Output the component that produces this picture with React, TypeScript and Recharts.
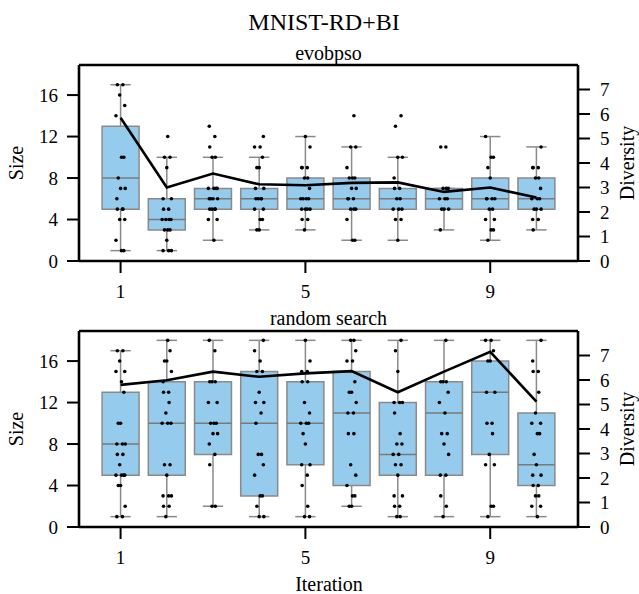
import React from 'react';
import {
  ComposedChart,
  XAxis,
  YAxis,
  Scatter,
  Line,
  ReferenceArea,
  ReferenceLine,
} from 'recharts';

// ---------- data ----------
const iterations = [1, 2, 3, 4, 5, 6, 7, 8, 9, 10];
const xTicks = [1, 5, 9];
const sizeTicks = [0, 4, 8, 12, 16];
const diversityTicks = [0, 1, 2, 3, 4, 5, 6, 7];

// evobpso panel
const evoQ1 = [5, 3, 5, 5, 5, 5, 5, 5, 5, 5];
const evoMedian = [8, 4, 6, 6, 6, 6, 6, 6, 6, 6];
const evoQ3 = [13, 6, 7, 7, 8, 8, 7, 7, 8, 8];
const evoWhiskerLow = [1, 1, 2, 3, 3, 2, 2, 3, 2, 3];
const evoWhiskerHigh = [17, 10, 10, 10, 12, 11, 10, 7, 12, 11];
const evoDiversity = [5.85, 3.0, 3.57, 3.13, 3.09, 3.19, 3.21, 2.82, 3.0, 2.59];
const evoPoints = [
  [17, 17, 16, 15, 14, 10, 10, 8, 7, 7, 6, 5, 5, 5, 4, 4, 2, 1, 1],
  [12, 10, 10, 9, 6, 6, 5, 5, 4, 4, 4, 4, 3, 3, 3, 2, 1, 1, 1],
  [13, 12, 11, 10, 10, 7, 7, 7, 7, 6, 6, 6, 6, 5, 5, 5, 5, 4, 4, 2],
  [12, 11, 11, 10, 9, 9, 7, 7, 6, 6, 6, 6, 5, 5, 4, 4, 3, 3],
  [12, 11, 9, 9, 9, 8, 8, 7, 6, 6, 6, 6, 5, 5, 5, 5, 4, 4, 3],
  [14, 11, 11, 9, 8, 8, 8, 7, 7, 6, 6, 6, 5, 5, 5, 4, 2, 2],
  [14, 13, 10, 10, 8, 7, 7, 6, 6, 5, 5, 5, 4, 4, 2],
  [11, 11, 7, 7, 7, 6, 6, 6, 5, 5, 5, 3],
  [12, 10, 10, 9, 8, 6, 6, 6, 6, 5, 5, 4, 4, 3, 3, 2],
  [11, 9, 9, 9, 8, 8, 7, 6, 6, 6, 5, 5, 5, 4, 4, 3],
];

// random search panel
const rsQ1 = [5, 5, 7, 3, 6, 4, 5, 5, 7, 4];
const rsMedian = [8, 10, 10, 10, 10, 11, 7, 11, 13, 6];
const rsQ3 = [13, 14, 14, 15, 14, 15, 12, 14, 16, 11];
const rsWhiskerLow = [1, 1, 2, 1, 1, 2, 1, 1, 1, 1];
const rsWhiskerHigh = [17, 18, 18, 18, 18, 18, 18, 18, 18, 18];
const rsDiversity = [5.8, 5.99, 6.34, 6.13, 6.27, 6.36, 5.5, 6.34, 7.15, 5.12];
const rsPoints = [
  [17, 17, 16, 15, 15, 14, 13, 10, 10, 8, 8, 8, 7, 7, 6, 5, 5, 5, 5, 4, 4, 2, 1, 1],
  [18, 17, 16, 16, 15, 14, 13, 13, 12, 11, 10, 10, 10, 6, 6, 5, 3, 3, 3, 2, 2, 1],
  [18, 17, 14, 14, 14, 12, 12, 10, 10, 10, 9, 9, 8, 7, 6, 2, 2],
  [18, 17, 16, 15, 15, 13, 12, 12, 11, 10, 7, 7, 6, 5, 3, 3, 2, 1, 1],
  [18, 16, 15, 15, 14, 14, 12, 11, 10, 10, 10, 9, 8, 6, 6, 5, 4, 2, 1, 1],
  [18, 18, 17, 16, 16, 14, 13, 13, 12, 11, 11, 9, 9, 6, 5, 4, 3, 3, 2, 2],
  [18, 17, 15, 12, 12, 12, 11, 9, 8, 8, 7, 7, 6, 6, 5, 3, 3, 2, 2, 1, 1],
  [18, 14, 14, 14, 13, 12, 11, 9, 9, 8, 7, 5, 5, 3, 2, 1],
  [18, 18, 17, 16, 16, 13, 13, 10, 10, 9, 7, 6, 6, 2, 2, 1],
  [18, 16, 15, 15, 13, 11, 10, 10, 9, 9, 7, 6, 5, 5, 4, 4, 3, 3, 2, 2, 1],
];

// ---------- styling ----------
const FONT = 'Liberation Serif';
const BOX_FILL = '#95cbec';
const BOX_EDGE = '#8a8a8a';
const jitterPattern = [-0.07, 0.05, -0.02, 0.09, -0.1, 0.02, 0.07, -0.05, 0.0, 0.1, -0.08, 0.04];

function toScatter(points: number[][]) {
  const out: { x: number; y: number }[] = [];
  points.forEach((vals, i) => {
    vals.forEach((v, j) => {
      out.push({
        x: iterations[i] + jitterPattern[(j + i * 5) % jitterPattern.length],
        y: v,
      });
    });
  });
  return out;
}

const DotShape = (p: any) => <circle cx={p.cx} cy={p.cy} r={1.8} fill="#000" />;

const tickStyle = { fontSize: 19, fill: '#000', fontFamily: FONT };
const axisLineStyle = { stroke: '#000', strokeWidth: 2.6 };
const tickLineStyle = { stroke: '#000', strokeWidth: 2 };

type PanelProps = {
  q1: number[];
  med: number[];
  q3: number[];
  lo: number[];
  hi: number[];
  div: number[];
  pts: number[][];
  height: number;
  margin: { top: number; right: number; bottom: number; left: number };
  xAxisHeight: number;
};

function Panel({ q1, med, q3, lo, hi, div, pts, height, margin, xAxisHeight }: PanelProps) {
  const lineData = iterations.map((it, i) => ({ x: it, d: div[i] }));
  const scatterData = toScatter(pts);
  const half = 0.4;
  const cap = 0.22;
  return (
    <ComposedChart width={639} height={height} margin={margin} data={lineData}>
      <XAxis
        xAxisId="x"
        type="number"
        dataKey="x"
        domain={[0.1, 10.9]}
        ticks={xTicks}
        allowDataOverflow
        height={xAxisHeight}
        tickSize={12}
        tickMargin={12}
        axisLine={axisLineStyle}
        tickLine={tickLineStyle}
        tick={tickStyle}
        interval={0}
      />
      <YAxis
        yAxisId="left"
        orientation="left"
        type="number"
        domain={[0, 18.9]}
        ticks={sizeTicks}
        allowDataOverflow
        width={79}
        tickSize={12}
        tickMargin={9}
        axisLine={axisLineStyle}
        tickLine={tickLineStyle}
        tick={tickStyle}
        interval={0}
      />
      <YAxis
        yAxisId="right"
        orientation="right"
        type="number"
        domain={[0, 8]}
        ticks={diversityTicks}
        allowDataOverflow
        width={61}
        tickSize={12}
        tickMargin={10}
        axisLine={axisLineStyle}
        tickLine={tickLineStyle}
        tick={tickStyle}
        interval={0}
      />
      {iterations.map((it, i) => (
        <ReferenceLine
          key={`wl${i}`}
          xAxisId="x"
          yAxisId="left"
          segment={[{ x: it, y: lo[i] }, { x: it, y: q1[i] }]}
          stroke={BOX_EDGE}
          strokeWidth={1.5}
          ifOverflow="visible"
        />
      ))}
      {iterations.map((it, i) => (
        <ReferenceLine
          key={`wh${i}`}
          xAxisId="x"
          yAxisId="left"
          segment={[{ x: it, y: q3[i] }, { x: it, y: hi[i] }]}
          stroke={BOX_EDGE}
          strokeWidth={1.5}
          ifOverflow="visible"
        />
      ))}
      {iterations.map((it, i) => (
        <ReferenceLine
          key={`cl${i}`}
          xAxisId="x"
          yAxisId="left"
          segment={[{ x: it - cap, y: lo[i] }, { x: it + cap, y: lo[i] }]}
          stroke={BOX_EDGE}
          strokeWidth={1.5}
          ifOverflow="visible"
        />
      ))}
      {iterations.map((it, i) => (
        <ReferenceLine
          key={`ch${i}`}
          xAxisId="x"
          yAxisId="left"
          segment={[{ x: it - cap, y: hi[i] }, { x: it + cap, y: hi[i] }]}
          stroke={BOX_EDGE}
          strokeWidth={1.5}
          ifOverflow="visible"
        />
      ))}
      {iterations.map((it, i) => (
        <ReferenceArea
          key={`box${i}`}
          xAxisId="x"
          yAxisId="left"
          x1={it - half}
          x2={it + half}
          y1={q1[i]}
          y2={q3[i]}
          fill={BOX_FILL}
          fillOpacity={1}
          stroke={BOX_EDGE}
          strokeWidth={1.5}
          ifOverflow="visible"
        />
      ))}
      {iterations.map((it, i) => (
        <ReferenceLine
          key={`med${i}`}
          xAxisId="x"
          yAxisId="left"
          segment={[{ x: it - half, y: med[i] }, { x: it + half, y: med[i] }]}
          stroke="#7a7a7a"
          strokeWidth={1.5}
          ifOverflow="visible"
        />
      ))}
      <Scatter
        xAxisId="x"
        yAxisId="left"
        data={scatterData}
        dataKey="y"
        shape={DotShape}
        isAnimationActive={false}
      />
      <Line
        xAxisId="x"
        yAxisId="right"
        type="linear"
        dataKey="d"
        stroke="#000"
        strokeWidth={2.6}
        dot={false}
        activeDot={false}
        isAnimationActive={false}
      />
      <ReferenceLine
        xAxisId="x"
        yAxisId="left"
        y={18.9}
        stroke="#000"
        strokeWidth={2.6}
        ifOverflow="visible"
      />
    </ComposedChart>
  );
}

export default function App() {
  return (
    <div
      style={{
        position: 'absolute',
        left: 0,
        top: 0,
        width: 639,
        height: 594,
        background: '#fff',
        fontFamily: FONT,
        overflow: 'hidden',
      }}
    >
      <div style={{ position: 'absolute', left: 0, top: 0 }}>
        <Panel
          q1={evoQ1}
          med={evoMedian}
          q3={evoQ3}
          lo={evoWhiskerLow}
          hi={evoWhiskerHigh}
          div={evoDiversity}
          pts={evoPoints}
          height={320}
          margin={{ top: 65, right: 0, bottom: 0, left: 0 }}
          xAxisHeight={59}
        />
      </div>
      <div style={{ position: 'absolute', left: 0, top: 300 }}>
        <Panel
          q1={rsQ1}
          med={rsMedian}
          q3={rsQ3}
          lo={rsWhiskerLow}
          hi={rsWhiskerHigh}
          div={rsDiversity}
          pts={rsPoints}
          height={294}
          margin={{ top: 31, right: 0, bottom: 27, left: 0 }}
          xAxisHeight={40}
        />
      </div>
      <svg
        width={639}
        height={594}
        style={{ position: 'absolute', left: 0, top: 0, pointerEvents: 'none' }}
      >
        <g fontFamily={FONT} fill="#000">
          <text x={324} y={30} fontSize={24} textAnchor="middle">MNIST-RD+BI</text>
          <text x={328.5} y={60} fontSize={20} textAnchor="middle">evobpso</text>
          <text x={328.5} y={325} fontSize={20} textAnchor="middle">random search</text>
          <text x={329} y={591} fontSize={20} textAnchor="middle">Iteration</text>
          <text x={23} y={163} fontSize={20} textAnchor="middle" transform="rotate(-90 23 163)">Size</text>
          <text x={23} y={429} fontSize={20} textAnchor="middle" transform="rotate(-90 23 429)">Size</text>
          <text x={634} y={163} fontSize={20} textAnchor="middle" transform="rotate(-90 634 163)">Diversity</text>
          <text x={634} y={429} fontSize={20} textAnchor="middle" transform="rotate(-90 634 429)">Diversity</text>
        </g>
      </svg>
    </div>
  );
}
